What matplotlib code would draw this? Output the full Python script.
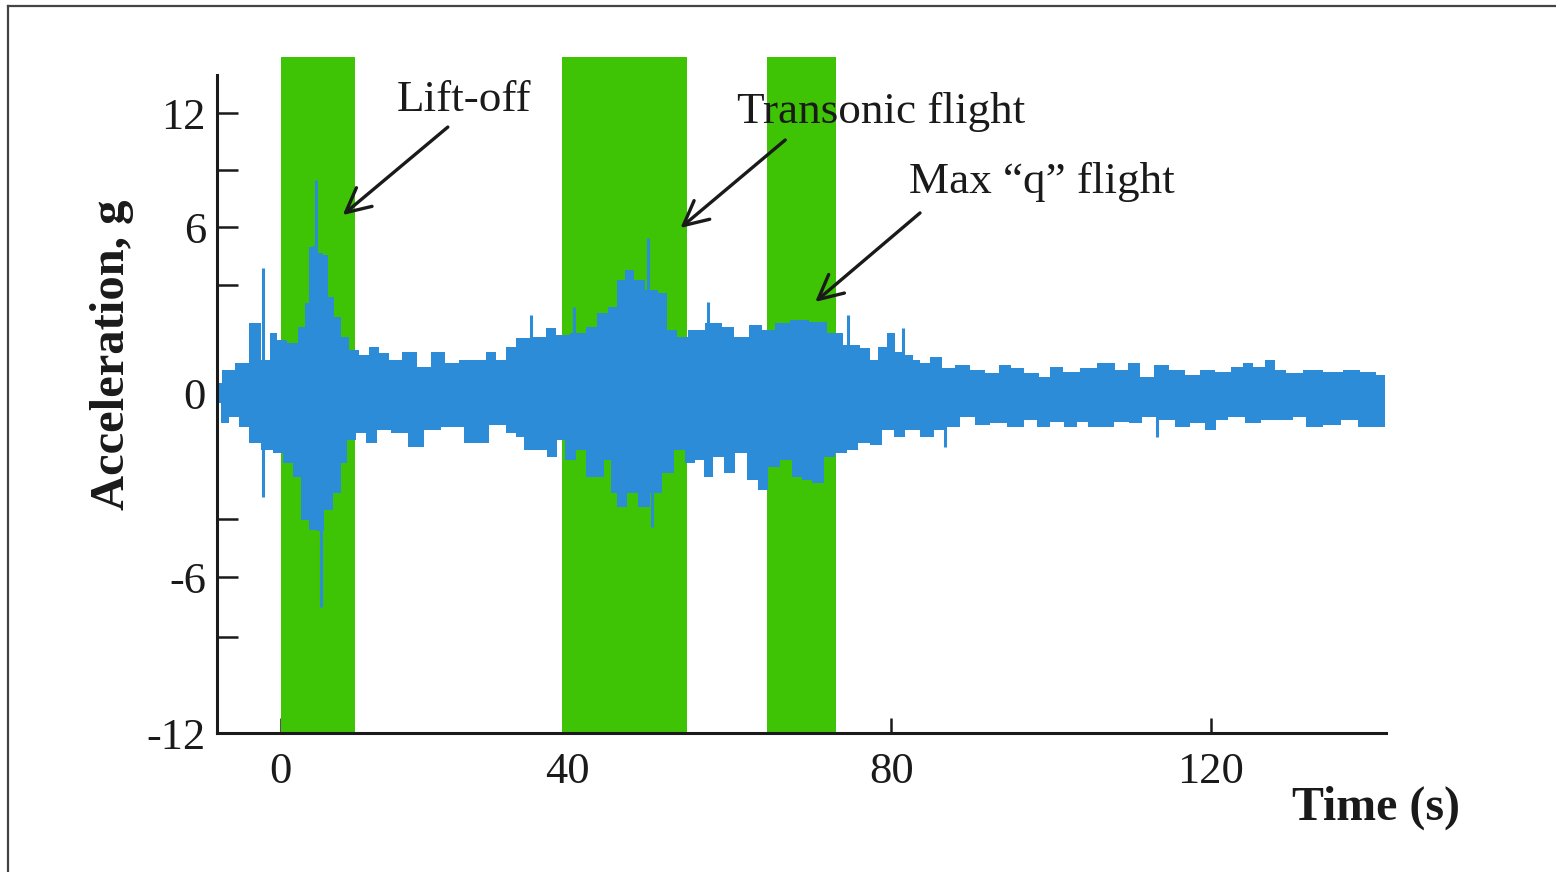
import numpy as np
import matplotlib
matplotlib.use('Agg')
import matplotlib.pyplot as plt
from matplotlib.lines import Line2D

# =============================================
# Data
# =============================================

# shaded flight phases (s)
band_start = [0.0, 39.2, 64.6]
band_end = [10.4, 54.8, 73.2]

# upper envelope of the vibration record
up_t = [-8.78, -7.67, -5.16, -3.76, -1.81, -1.11, 0.0, 1.81, 3.07, 3.76,
        4.18, 4.88, 5.57, 6.27, 6.97, 7.94, 8.78, 10.17, 11.57, 12.96,
        14.36, 15.75, 18.12, 19.93, 22.02, 23.69, 26.06, 27.87, 29.27, 30.66,
        32.06, 33.45, 36.24, 37.63, 39.02, 41.60, 42.84, 44.44, 45.68, 46.54,
        47.78, 48.64, 50.62, 51.85, 52.72, 54.32, 55.56, 58.52, 59.75, 61.36,
        63.46, 64.69, 66.67, 68.40, 71.23, 72.84, 75.31, 77.04, 77.78, 78.89,
        80.12, 80.75, 82.12, 83.25, 84.0, 85.75, 87.0, 88.88, 90.75, 92.75,
        94.25, 95.75, 97.38, 99.5, 100.25, 102.75, 104.5, 107.0, 109.0, 110.25,
        112.0, 113.63, 115.75, 117.75, 119.5, 121.5, 123.63, 124.5, 126.13, 127.38,
        128.63, 130.25, 132.75, 135.25, 137.75, 139.5, 141.75]
up_v = [0.28, 0.64, 0.83, 1.94, 0.92, 1.67, 1.47, 1.39, 1.83, 2.5,
        4.97, 5.0, 4.66, 4.55, 2.67, 2.11, 1.56, 1.19, 1.06, 1.28,
        1.11, 0.92, 1.14, 0.72, 1.14, 0.83, 0.92, 0.92, 1.14, 0.92,
        1.28, 1.53, 1.56, 1.81, 1.61, 1.67, 1.83, 2.22, 2.39, 3.26,
        3.78, 3.26, 2.86, 2.78, 1.75, 1.56, 1.75, 1.94, 1.83, 1.56,
        1.89, 1.75, 1.94, 2.03, 1.97, 1.67, 1.33, 1.25, 0.92, 1.28,
        1.67, 1.14, 1.06, 0.92, 0.83, 1.0, 0.69, 0.78, 0.64, 0.56,
        0.78, 0.69, 0.56, 0.44, 0.72, 0.58, 0.69, 0.83, 0.64, 0.83,
        0.44, 0.78, 0.64, 0.5, 0.64, 0.58, 0.72, 0.83, 0.72, 0.92,
        0.64, 0.56, 0.64, 0.58, 0.64, 0.58, 0.5]

# lower envelope
lo_t = [-8.78, -7.94, -6.55, -5.16, -3.76, -1.81, -0.42, 0.98, 2.37, 3.21,
        4.60, 5.57, 6.55, 7.94, 8.78, 9.76, 11.15, 12.54, 14.36, 16.31,
        19.09, 20.91, 23.69, 27.46, 30.66, 32.06, 33.45, 34.43, 36.24, 37.91,
        39.02, 40.37, 41.60, 42.84, 44.07, 44.94, 45.68, 46.54, 48.15, 49.38,
        51.11, 52.35, 53.95, 55.19, 56.42, 57.41, 58.52, 60.12, 61.36, 62.96,
        64.2, 65.43, 67.16, 68.4, 69.63, 70.86, 72.47, 73.70, 75.31, 76.54,
        78.27, 79.51, 81.13, 82.38, 84.88, 85.75, 87.75, 89.5, 91.5, 93.25,
        95.75, 97.38, 99.0, 100.75, 102.38, 104.0, 105.25, 107.0, 108.63, 110.75,
        112.0, 114.5, 116.5, 118.25, 120.25, 121.13, 123.25, 125.25, 127.38, 129.5,
        131.13, 132.75, 135.25, 137.38, 139.5, 141.75]
lo_v = [-0.24, -0.71, -0.57, -0.81, -1.19, -1.36, -1.43, -1.67, -2.0, -3.05,
        -3.57, -3.6, -2.79, -2.38, -1.67, -1.12, -0.95, -1.19, -0.88, -0.95,
        -1.29, -0.88, -0.81, -1.19, -0.76, -0.95, -1.05, -1.36, -1.36, -1.52,
        -1.12, -1.6, -1.36, -2.0, -2.0, -1.6, -2.38, -2.71, -2.38, -2.71,
        -2.38, -1.9, -1.36, -1.67, -1.6, -2.0, -1.52, -1.9, -1.43, -2.07,
        -2.31, -1.76, -1.6, -2.0, -2.07, -2.14, -1.52, -1.43, -1.36, -1.19,
        -1.24, -0.88, -1.05, -0.88, -1.05, -0.88, -0.81, -0.57, -0.76, -0.71,
        -0.81, -0.64, -0.81, -0.69, -0.81, -0.69, -0.81, -0.81, -0.69, -0.71,
        -0.57, -0.64, -0.81, -0.71, -0.88, -0.64, -0.57, -0.71, -0.64, -0.64,
        -0.57, -0.81, -0.76, -0.64, -0.81, -0.81]

# isolated narrow peaks
spike_t = [-2.51, 4.88, 34.84, 40.74, 50.0, 57.41, 74.69, 81.5]
spike_v = [3.88, 8.47, 2.17, 2.39, 5.43, 2.53, 2.17, 1.81]
dip_t = [-2.51, 5.57, 50.49, 86.75, 113.25]
dip_v = [-2.48, -7.5, -3.41, -1.29, -1.05]

x_ticks = [0, 40, 80, 120]
y_ticks = [-12, -6, 0, 6, 12]
y_tick_labels = ['-12', '-6', '0', '6', '12']
y_minor = [-9, -3, 3, 9]

# =============================================
# Uneven axes of the original (piecewise scales)
# =============================================

X_VAL = [-100, 0, 40, 80, 120, 300]
X_POS = [-437.5, 280, 567, 891, 1211, 2651]
Y_VAL = [-100, -12, -9, -6, -3, 0, 3, 6, 9, 12, 100]
Y_POS = [-3549, -733, -637, -577, -519, -393, -285, -227, -170, -113, 1559]


def x_fwd(v):
    return np.interp(v, X_VAL, X_POS)


def x_inv(p):
    return np.interp(p, X_POS, X_VAL)


def y_fwd(v):
    return np.interp(v, Y_VAL, Y_POS)


def y_inv(p):
    return np.interp(p, Y_POS, Y_VAL)


BLUE = '#2d8cd8'
GREEN = '#3ec405'
INK = '#1a1a1a'
FONT = ['Liberation Serif', 'DejaVu Serif']

plt.rcParams['font.family'] = FONT

fig = plt.figure(figsize=(15.56, 8.72), dpi=100)
ax = fig.add_axes([217 / 1556, 1 - 733 / 872, 1169 / 1556, 658 / 872])
ax.set_xscale('function', functions=(x_fwd, x_inv))
ax.set_yscale('function', functions=(y_fwd, y_inv))
ax.set_xlim(-8.9, 141.9)
ax.set_ylim(-12, 14.0)

# flight phase bands, poking above the axis top like the original
for s, e in zip(band_start, band_end):
    ax.axvspan(s, e, ymin=0, ymax=1.0274, color=GREEN, lw=0, zorder=2,
               clip_on=False)

# vibration record
ax.fill_between(up_t, 0, up_v, step='mid', color=BLUE, lw=0, zorder=2.2)
ax.fill_between(lo_t, lo_v, 0, step='mid', color=BLUE, lw=0, zorder=2.2)
ax.vlines(spike_t, 0, spike_v, color=BLUE, lw=2.2, zorder=2.2)
ax.vlines(dip_t, dip_v, 0, color=BLUE, lw=2.2, zorder=2.2)

# axes styling
for side in ['top', 'right']:
    ax.spines[side].set_visible(False)
for side in ['left', 'bottom']:
    ax.spines[side].set_linewidth(2.2)
    ax.spines[side].set_color(INK)

ax.set_xticks(x_ticks)
ax.set_xticklabels([str(v) for v in x_ticks])
ax.set_yticks(y_ticks)
ax.set_yticklabels(y_tick_labels)
ax.set_yticks(y_minor, minor=True)
ax.xaxis.set_minor_locator(matplotlib.ticker.NullLocator())
ax.tick_params(axis='x', direction='in', length=11, width=1.8, color=INK,
               labelsize=32, pad=14, labelcolor=INK)
ax.tick_params(axis='y', which='both', direction='in', length=15, width=1.8,
               color=INK, labelsize=32, pad=8, labelcolor=INK)

# annotations
notes = [
    ('Lift-off', (25.5, 12.68), (23.3, 11.26), (8.64, 6.63)),
    ('Transonic flight', (78.8, 12.05), (66.9, 10.58), (53.95, 5.95)),
    ('Max \u201cq\u201d flight', (98.9, 8.37), (83.6, 6.74), (70.6, 2.53)),
]
for label, text_xy, tail, tip in notes:
    ax.text(text_xy[0], text_xy[1], label, fontsize=32.5, ha='center',
            va='center', color=INK, zorder=4)
    ax.annotate('', xy=tip, xytext=tail, zorder=4,
                arrowprops=dict(arrowstyle='->,head_length=0.7,head_width=0.35',
                                lw=2.4, color=INK, mutation_scale=25,
                                shrinkA=0, shrinkB=0))

fig.text(112 / 1556, 1 - 355 / 872, 'Acceleration, g', rotation=90,
         fontsize=35, fontweight='bold', ha='center', va='center', color=INK)
fig.text(1376 / 1556, 1 - 808 / 872, 'Time (s)', fontsize=34.5,
         fontweight='bold', ha='center', va='center', color=INK)

# thin frame of the original image (top and left edges)
fig.add_artist(Line2D([8 / 1556, 1.0], [1 - 6 / 872, 1 - 6 / 872],
                      transform=fig.transFigure, color='#444444', lw=1.6))
fig.add_artist(Line2D([8 / 1556, 8 / 1556], [0.0, 1 - 6 / 872],
                      transform=fig.transFigure, color='#444444', lw=1.6))

fig.savefig('out.png', dpi=100)
